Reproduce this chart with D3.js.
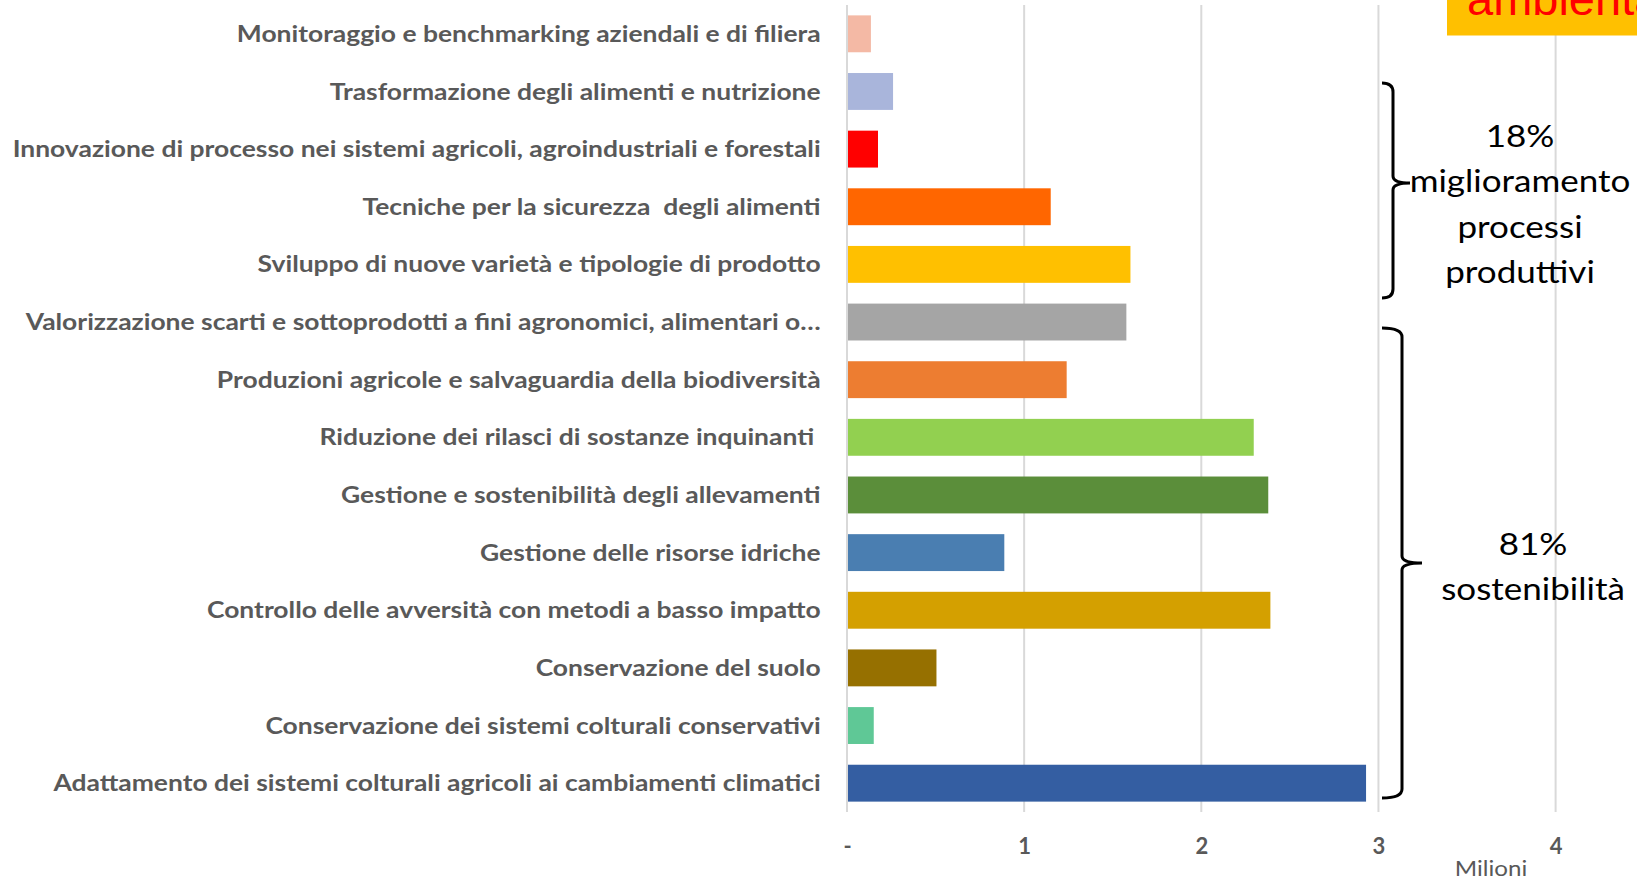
<!DOCTYPE html>
<html>
<head>
<meta charset="utf-8">
<script src="https://cdn.jsdelivr.net/npm/d3@7"></script>
<style>
  html, body { margin: 0; padding: 0; background: #fff; }
  svg { display: block; }
  text { white-space: pre; }
</style>
</head>
<body>
<svg width="1637" height="880"></svg>
<script>
// categories, top to bottom
const categories = [
  "Monitoraggio e benchmarking aziendali e di filiera",
  "Trasformazione degli alimenti e nutrizione",
  "Innovazione di processo nei sistemi agricoli, agroindustriali e forestali",
  "Tecniche per la sicurezza  degli alimenti",
  "Sviluppo di nuove varietà e tipologie di prodotto",
  "Valorizzazione scarti e sottoprodotti a fini agronomici, alimentari o…",
  "Produzioni agricole e salvaguardia della biodiversità",
  "Riduzione dei rilasci di sostanze inquinanti ",
  "Gestione e sostenibilità degli allevamenti",
  "Gestione delle risorse idriche",
  "Controllo delle avversità con metodi a basso impatto",
  "Conservazione del suolo",
  "Conservazione dei sistemi colturali conservativi",
  "Adattamento dei sistemi colturali agricoli ai cambiamenti climatici"
];
// importi in milioni
const values = [0.135, 0.26, 0.175, 1.15, 1.60, 1.577, 1.24, 2.296, 2.378, 0.888, 2.39, 0.505, 0.151, 2.93];
const colors = ["#F4B9A5", "#A9B5DB", "#FF0000", "#FF6600", "#FFC000", "#A5A5A5", "#ED7D31",
  "#92D050", "#5B8E3A", "#4A7EB1", "#D4A000", "#967000", "#5FC896", "#345EA2"];
const xTicks = [0, 1, 2, 3, 4];

const svg = d3.select("svg");

// the source picture is a bit stretched horizontally
const stretch = 1.15;

const x = d3.scaleLinear().domain([0, 4]).range([847, 1555.6]);
const y = d3.scaleBand().domain(categories).range([5, 812])
  .paddingInner(0.36).paddingOuter(0.18);

// gridlines
svg.append("g")
  .selectAll("line")
  .data(xTicks)
  .enter().append("line")
  .attr("x1", d => x(d)).attr("x2", d => x(d))
  .attr("y1", 5).attr("y2", 812)
  .attr("stroke", "#D9D9D9")
  .attr("stroke-width", 2);

// bars
svg.append("g")
  .selectAll("rect")
  .data(values)
  .enter().append("rect")
  .attr("x", x(0) + 1)
  .attr("y", (d, i) => y(categories[i]))
  .attr("width", d => x(d) - x(0) - 1)
  .attr("height", y.bandwidth())
  .attr("fill", (d, i) => colors[i]);

// category labels
svg.append("g")
  .selectAll("text")
  .data(categories)
  .enter().append("text")
  .attr("transform", d => `translate(820.6,${y(d) + y.bandwidth() / 2}) scale(${stretch},1)`)
  .attr("dy", "0.35em")
  .attr("text-anchor", "end")
  .attr("font-family", "Lato, sans-serif")
  .attr("font-weight", "bold")
  .attr("font-size", 23)
  .attr("fill", "#595959")
  .text(d => d);

// x axis labels
const xAxis = d3.axisBottom(x)
  .tickValues(xTicks)
  .tickSize(0)
  .tickFormat(d => d === 0 ? "-" : d);
const ax = svg.append("g")
  .attr("transform", "translate(0,835)")
  .call(xAxis);
ax.select(".domain").remove();
ax.selectAll("text")
  .attr("font-family", "Lato, sans-serif")
  .attr("font-weight", "bold")
  .attr("font-size", 22)
  .attr("fill", "#595959");

svg.append("text")
  .attr("transform", `translate(1491,876) scale(${stretch},1)`)
  .attr("text-anchor", "middle")
  .attr("font-family", "Lato, sans-serif")
  .attr("font-size", 21)
  .attr("fill", "#595959")
  .text("Milioni");

// brackets
function brace(xs, top, bottom, mid, tip, serif) {
  const p = d3.path();
  p.moveTo(serif, top);
  p.quadraticCurveTo(xs, top, xs, top + 9);
  p.lineTo(xs, mid - 7);
  p.quadraticCurveTo(xs, mid, tip, mid);
  p.quadraticCurveTo(xs, mid, xs, mid + 7);
  p.lineTo(xs, bottom - 9);
  p.quadraticCurveTo(xs, bottom, serif, bottom);
  return p.toString();
}
svg.append("path")
  .attr("d", brace(1393, 83, 298, 183, 1410, 1382))
  .attr("fill", "none").attr("stroke", "#000").attr("stroke-width", 3);
svg.append("path")
  .attr("d", brace(1402, 328, 798, 563, 1422, 1382))
  .attr("fill", "none").attr("stroke", "#000").attr("stroke-width", 3);

const note1 = ["18%", "miglioramento", "processi", "produttivi"];
svg.append("g")
  .selectAll("text")
  .data(note1)
  .enter().append("text")
  .attr("transform", (d, i) => `translate(1520,${147 + i * 45.3}) scale(1.13,1)`)
  .attr("text-anchor", "middle")
  .attr("font-family", "Lato, sans-serif")
  .attr("font-size", 31)
  .attr("fill", "#000")
  .text(d => d);

const note2 = ["81%", "sostenibilità"];
svg.append("g")
  .selectAll("text")
  .data(note2)
  .enter().append("text")
  .attr("transform", (d, i) => `translate(1533,${555 + i * 45.3}) scale(1.13,1)`)
  .attr("text-anchor", "middle")
  .attr("font-family", "Lato, sans-serif")
  .attr("font-size", 31)
  .attr("fill", "#000")
  .text(d => d);

// title box cut at the top right
svg.append("rect")
  .attr("x", 1447).attr("y", 0)
  .attr("width", 190).attr("height", 35.5)
  .attr("fill", "#FFC000");
svg.append("text")
  .attr("x", 1467).attr("y", 15)
  .attr("font-family", "Liberation Sans, Arial, sans-serif")
  .attr("font-size", 47)
  .attr("fill", "#FF0000")
  .text("ambientale");
</script>
</body>
</html>
